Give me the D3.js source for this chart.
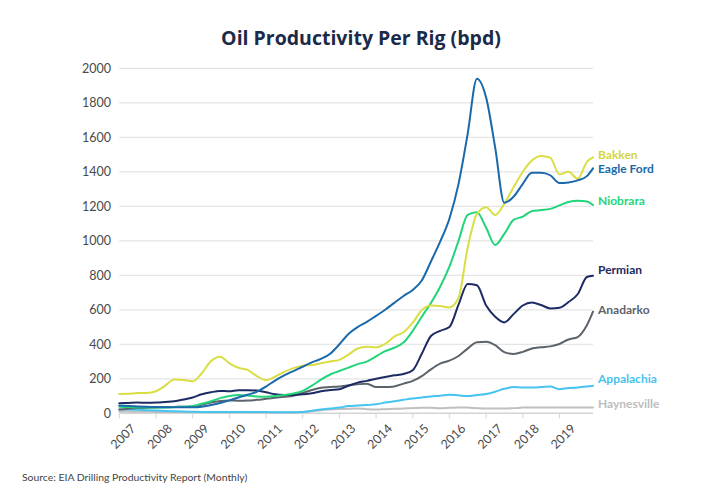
<!DOCTYPE html>
<html>
<head>
<meta charset="utf-8">
<script src="https://cdn.jsdelivr.net/npm/d3@7"></script>
<style>
  html, body { margin: 0; padding: 0; background: #ffffff; }
  svg { display: block; }
</style>
</head>
<body>
<svg id="chart" width="720" height="500"></svg>
<script>
// ---- Data (quarterly readings, bpd per rig) ----
const dates = [
  "2007-01","2007-04","2007-07","2007-10","2008-01","2008-04","2008-07","2008-10",
  "2009-01","2009-04","2009-07","2009-10","2010-01","2010-04","2010-07","2010-10",
  "2011-01","2011-04","2011-07","2011-10","2012-01","2012-04","2012-07","2012-10",
  "2013-01","2013-04","2013-07","2013-10","2014-01","2014-04","2014-07","2014-10",
  "2015-01","2015-04","2015-07","2015-10","2016-01","2016-04","2016-07","2016-10",
  "2017-01","2017-04","2017-07","2017-10","2018-01","2018-04","2018-07","2018-10",
  "2019-01","2019-04","2019-07","2019-10","2019-12"
];
const bakken = [112,113,118,118,128,160,196,193,186,232,302,328,290,264,252,216,
  192,212,240,262,276,280,290,300,310,340,376,386,382,402,445,470,
  525,598,625,622,614,670,960,1155,1195,1150,1215,1310,1400,1465,1492,1482,
  1385,1400,1360,1458,1484];
const eagleFord = [45,42,40,38,36,35,35,35,35,38,48,60,75,92,108,125,
  155,190,220,245,270,295,315,345,400,460,500,530,565,600,640,680,
  715,770,880,995,1128,1330,1620,1940,1830,1540,1220,1255,1330,1395,1395,1380,
  1335,1338,1350,1375,1420];
const niobrara = [38,36,34,33,33,34,36,38,42,55,70,88,100,106,103,98,
  96,100,106,115,130,160,195,225,245,265,285,300,330,360,380,410,
  478,560,640,734,850,1000,1150,1165,1075,976,1040,1121,1140,1172,1178,1185,
  1205,1225,1232,1228,1207];
const permian = [58,60,62,61,62,66,70,80,92,110,122,130,128,134,134,132,
  122,110,106,106,110,116,128,135,140,160,178,188,200,210,220,228,
  250,345,448,478,500,630,750,742,625,560,527,575,625,642,628,608,
  612,645,690,790,798];
const anadarko = [22,26,30,32,34,36,37,38,38,50,62,72,74,73,74,78,
  84,90,96,102,118,135,148,152,156,162,168,172,152,152,156,172,
  188,215,255,288,305,332,375,412,415,395,355,344,356,376,383,388,
  402,428,442,510,589];
const appalachia = [22,22,20,18,16,14,12,10,9,8,8,8,8,8,8,8,
  7,6,6,6,8,15,22,28,33,42,45,48,52,62,70,78,
  86,92,98,102,108,104,100,106,112,125,142,152,150,150,152,155,
  140,146,150,155,160];
const haynesville = [10,10,9,9,8,8,8,7,7,7,6,6,6,6,6,5,
  5,5,5,5,8,12,18,22,25,27,28,24,22,24,26,28,
  30,32,32,30,32,34,33,30,28,28,28,30,33,34,34,34,
  34,34,34,34,34];

const seriesNames = ["Bakken","Eagle Ford","Niobrara","Permian","Anadarko","Appalachia","Haynesville"];
const seriesValues = [bakken, eagleFord, niobrara, permian, anadarko, appalachia, haynesville];
const seriesColors = ["#d9de43","#1a69aa","#22d57b","#1c2b63","#5c636b","#45c4f0","#bfbfbf"];
const labelColors  = ["#d4d63c","#1a69aa","#22d57b","#1c2b63","#5c636b","#45c4f0","#bdbdbd"];
// value level at which each end label sits
const labelValues = [1500, 1415, 1230, 830, 600, 198, 55];

const yTicks = [0,200,400,600,800,1000,1200,1400,1600,1800,2000];
const xTickYears = [2007,2008,2009,2010,2011,2012,2013,2014,2015,2016,2017,2018,2019];

const titleText = "Oil Productivity Per Rig (bpd)";
const sourceText = "Source: EIA Drilling Productivity Report (Monthly)";

// ---- Chart ----
const svg = d3.select("#chart");
const W = 720, H = 500;
const margin = {left: 119.3, right: 127, top: 68.3, bottom: 86.7};
const parse = d3.timeParse("%Y-%m");
const dateObjs = dates.map(parse);

const x = d3.scaleTime()
  .domain([new Date(2007,0,1), new Date(2019,11,1)])
  .range([margin.left, W - margin.right]);
const y = d3.scaleLinear()
  .domain([0, 2000])
  .range([H - margin.bottom, margin.top]);

const font = "Lato, 'Open Sans', sans-serif";

// gridlines
svg.append("g").selectAll("line").data(yTicks).join("line")
  .attr("x1", x.range()[0]).attr("x2", x.range()[1])
  .attr("y1", d => y(d)).attr("y2", d => y(d))
  .attr("stroke", d => d === 0 ? "#d4d4d4" : "#e5e5e5")
  .attr("stroke-width", d => d === 0 ? 1.5 : 1.2);

// y labels
svg.append("g").selectAll("text").data(yTicks).join("text")
  .attr("x", 111).attr("y", d => y(d)).attr("dy", "0.35em")
  .attr("text-anchor", "end")
  .attr("font-family", font).attr("font-size", 12.5)
  .attr("fill", "#4a4a4a")
  .text(d => d);

// x ticks
const xt = svg.append("g");
xt.selectAll("line").data(xTickYears).join("line")
  .attr("x1", d => x(new Date(d,0,1))).attr("x2", d => x(new Date(d,0,1)))
  .attr("y1", y(0)).attr("y2", y(0) + 5)
  .attr("stroke", "#d4d4d4").attr("stroke-width", 1);
xt.selectAll("text").data(xTickYears).join("text")
  .attr("transform", d => `translate(${x(new Date(d,0,1)) + 17},${y(0) + 16}) rotate(-45)`)
  .attr("text-anchor", "end")
  .attr("font-family", font).attr("font-size", 12.5)
  .attr("fill", "#4a4a4a")
  .text(d => d);

// lines (draw from bottom to top)
const line = d3.line()
  .x((d, i) => x(dateObjs[i]))
  .y(d => y(d))
  .curve(d3.curveMonotoneX);

const order = [6,5,4,3,2,0,1];
svg.append("g").selectAll("path").data(order).join("path")
  .attr("d", i => line(seriesValues[i]))
  .attr("fill", "none")
  .attr("stroke", i => seriesColors[i])
  .attr("stroke-width", 2)
  .attr("stroke-linejoin", "round")
  .attr("stroke-linecap", "round");

// series labels
svg.append("g").selectAll("text").data(seriesNames).join("text")
  .attr("x", 598)
  .attr("y", (d, i) => y(labelValues[i]))
  .attr("dy", "0.35em")
  .attr("font-family", font).attr("font-size", 12).attr("font-weight", 700)
  .attr("fill", (d, i) => labelColors[i])
  .text(d => d);

// title
svg.append("text")
  .attr("x", 361).attr("y", 45)
  .attr("text-anchor", "middle")
  .attr("font-family", "'Open Sans', Lato, sans-serif").attr("font-size", 19.5).attr("font-weight", 700)
  .attr("fill", "#1b2a48")
  .text(titleText);

// source
svg.append("text")
  .attr("x", 22).attr("y", 481)
  .attr("font-family", font).attr("font-size", 10.4)
  .attr("fill", "#444")
  .text(sourceText);
</script>
</body>
</html>
